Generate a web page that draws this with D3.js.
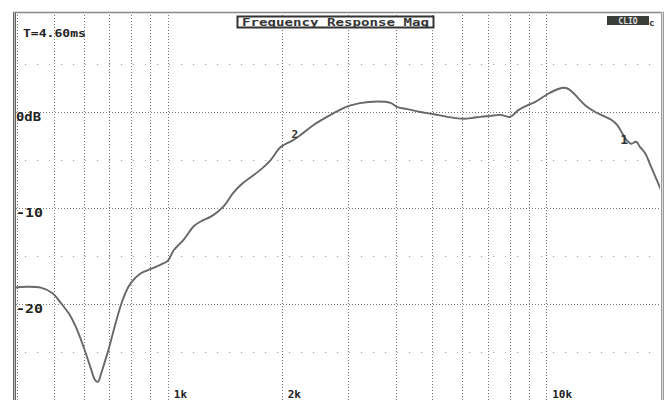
<!DOCTYPE html>
<html>
<head>
<meta charset="utf-8">
<script src="https://cdn.jsdelivr.net/npm/d3@7"></script>
<style>
  html, body { margin: 0; padding: 0; background: #fff; }
  svg { display: block; }
</style>
</head>
<body>
<svg id="chart" width="672" height="400"></svg>
<script>
const freqHz = [392, 422, 462, 497, 522, 548, 572, 597, 626, 642,
  654, 666, 682, 699, 720, 752, 775, 799, 849, 902,
  958, 1000, 1037, 1102, 1171, 1222, 1299, 1363, 1414, 1484,
  1558, 1656, 1760, 1870, 1987, 2150, 2244, 2428, 2692, 2949,
  3040, 3391, 3876, 4045, 4298, 4651, 5003, 5482, 6039, 6418,
  6697, 7116, 7560, 8035, 8437, 8911, 9354, 10120, 10960, 11290,
  11640, 12140, 12670, 13470, 14140, 14850, 15390, 15870, 16360, 16760,
  17280, 17700, 18250, 18920, 19750, 20360];
const magDb = [-18.3, -18.2, -18.3, -18.9, -19.9, -21.0, -22.4, -24.3, -26.7, -27.9,
  -28.1, -27.3, -26.0, -24.6, -22.7, -20.1, -18.75, -17.8, -16.8, -16.35,
  -15.9, -15.5, -14.4, -13.3, -11.9, -11.4, -10.9, -10.3, -9.7, -8.5,
  -7.6, -6.8, -6.0, -5.0, -3.65, -2.9, -2.4, -1.35, -0.3, 0.5,
  0.7, 1.05, 0.95, 0.5, 0.3, 0.0, -0.2, -0.5, -0.7, -0.6,
  -0.5, -0.4, -0.3, -0.5, 0.2, 0.7, 1.05, 1.9, 2.5, 2.5,
  2.2, 1.45, 0.7, 0.0, -0.4, -0.8, -1.35, -2.2, -3.0, -3.3,
  -3.1, -3.65, -4.3, -5.7, -7.4, -8.65];

const vGridFreqs = [400, 500, 600, 700, 800, 900, 1000, 2000, 3000, 4000, 5000, 6000, 7000, 8000, 9000, 10000];
const hMajorDb = [0, -10, -20];
const hMinorDb = [5, -5, -15, -25];

const xLabelFreqs = [1000, 2000, 10000];
const xLabelText = ["1k", "2k", "10k"];
const yLabelDb = [0, -10, -20];
const yLabelText = ["0dB", "-10", "-20"];

const markerFreqs = [2150, 15870];
const markerDb = [-2.9, -2.2];
const markerText = ["2", "1"];

const titleText = "Frequency Response Mag";
const delayText = "T=4.60ms";

(function () {
  // ---------- scales ----------
  const plotLeft = 13, plotRight = 661, plotTop = 12, plotBottom = 400;
  const x = d3.scaleLog().domain([390, 20100]).range([plotLeft, plotRight]);
  const y = d3.scaleLinear().domain([10.42, -30]).range([plotTop, plotBottom]);

  const svg = d3.select("#chart");
  const mono = "'DejaVu Sans Mono', 'Liberation Mono', monospace";

  svg.append("defs").append("clipPath").attr("id", "plot-clip")
    .append("rect").attr("x", plotLeft + 2).attr("y", plotTop + 1)
    .attr("width", plotRight - plotLeft - 3).attr("height", plotBottom - plotTop);

  const grid = svg.append("g").attr("clip-path", "url(#plot-clip)");

  // minor (sparse) horizontal lines
  grid.selectAll("line.hminor")
    .data(hMinorDb)
    .join("line")
    .attr("class", "hminor")
    .attr("x1", plotLeft).attr("x2", plotRight)
    .attr("y1", (d) => Math.round(y(d)) + 0.5).attr("y2", (d) => Math.round(y(d)) + 0.5)
    .attr("stroke", "#999").attr("stroke-width", 1)
    .attr("stroke-dasharray", "1,11");

  // vertical grid
  grid.selectAll("line.vgrid")
    .data(vGridFreqs)
    .join("line")
    .attr("class", "vgrid")
    .attr("x1", (d) => Math.round(x(d)) + 0.5).attr("x2", (d) => Math.round(x(d)) + 0.5)
    .attr("y1", plotTop).attr("y2", plotBottom)
    .attr("stroke", "#777").attr("stroke-width", 1)
    .attr("stroke-dasharray", "1,2");

  // major horizontal grid
  grid.selectAll("line.hmajor")
    .data(hMajorDb)
    .join("line")
    .attr("class", "hmajor")
    .attr("x1", plotLeft).attr("x2", plotRight)
    .attr("y1", (d) => Math.round(y(d)) + 0.5).attr("y2", (d) => Math.round(y(d)) + 0.5)
    .attr("stroke", "#777").attr("stroke-width", 1)
    .attr("stroke-dasharray", "1,2");

  // ---------- curve ----------
  const points = freqHz.map((f, i) => [f, magDb[i]]);
  const line = d3.line()
    .x((d) => x(d[0]))
    .y((d) => y(d[1]))
    .curve(d3.curveCatmullRom.alpha(0.5));

  grid.append("path")
    .datum(points)
    .attr("d", line)
    .attr("fill", "none")
    .attr("stroke", "#656965")
    .attr("stroke-width", 1.9)
    .attr("stroke-linejoin", "round");

  // curve markers
  svg.selectAll("text.marker")
    .data(markerFreqs)
    .join("text")
    .attr("class", "marker")
    .attr("x", (d) => x(d) - 2)
    .attr("y", (d, i) => y(markerDb[i]) + (i === 0 ? -2 : 11))
    .attr("font-family", mono).attr("font-weight", "bold")
    .attr("font-size", (d, i) => (i === 0 ? 11 : 13))
    .attr("fill", "#333")
    .text((d, i) => markerText[i]);

  // ---------- frame ----------
  svg.append("line").attr("x1", plotLeft).attr("x2", plotRight + 3).attr("y1", plotTop + 0.5).attr("y2", plotTop + 0.5)
    .attr("stroke", "#888").attr("stroke-width", 1.5);
  svg.append("line").attr("x1", plotLeft + 1.5).attr("x2", plotLeft + 1.5).attr("y1", plotTop).attr("y2", plotBottom)
    .attr("stroke", "#666").attr("stroke-width", 3);
  svg.append("line").attr("x1", plotLeft + 1.5).attr("x2", plotLeft + 1.5).attr("y1", plotTop).attr("y2", plotBottom)
    .attr("stroke", "#bbb").attr("stroke-width", 1);
  svg.append("line").attr("x1", plotRight + 1.5).attr("x2", plotRight + 1.5).attr("y1", plotTop).attr("y2", plotBottom)
    .attr("stroke", "#999").attr("stroke-width", 3);
  svg.append("line").attr("x1", plotRight + 1.5).attr("x2", plotRight + 1.5).attr("y1", plotTop).attr("y2", plotBottom)
    .attr("stroke", "#ddd").attr("stroke-width", 1);

  // ---------- labels ----------
  svg.selectAll("text.ylab")
    .data(yLabelDb)
    .join("text")
    .attr("class", "ylab")
    .attr("x", plotLeft + 3)
    .attr("y", (d) => y(d) + 9)
    .attr("font-family", mono).attr("font-weight", "bold").attr("font-size", 12)
    .attr("fill", "#222")
    .attr("textLength", (d, i) => (i === 0 ? 25 : 27))
    .attr("lengthAdjust", "spacingAndGlyphs")
    .text((d, i) => yLabelText[i]);

  svg.selectAll("text.xlab")
    .data(xLabelFreqs)
    .join("text")
    .attr("class", "xlab")
    .attr("x", (d) => x(d) + 6)
    .attr("y", 398)
    .attr("font-family", mono).attr("font-weight", "bold").attr("font-size", 11)
    .attr("fill", "#222")
    .text((d, i) => xLabelText[i]);

  svg.append("text")
    .attr("x", 23).attr("y", 37)
    .attr("font-family", mono).attr("font-weight", "bold").attr("font-size", 11)
    .attr("fill", "#222")
    .attr("textLength", 63).attr("lengthAdjust", "spacingAndGlyphs")
    .text(delayText);

  // title box
  svg.append("rect")
    .attr("x", 237.5).attr("y", 16.5).attr("width", 196).attr("height", 11)
    .attr("fill", "#fff").attr("stroke", "#333").attr("stroke-width", 2);
  svg.append("text")
    .attr("x", 242).attr("y", 26)
    .attr("font-family", mono).attr("font-weight", "bold").attr("font-size", 11)
    .attr("fill", "#333")
    .attr("textLength", 187).attr("lengthAdjust", "spacingAndGlyphs")
    .text(titleText);

  // logo box top right
  svg.append("rect")
    .attr("x", 607).attr("y", 16).attr("width", 42).attr("height", 9)
    .attr("fill", "#3a3f3a");
  svg.append("text")
    .attr("x", 628).attr("y", 24)
    .attr("text-anchor", "middle")
    .attr("font-family", mono).attr("font-weight", "bold").attr("font-size", 8)
    .attr("fill", "#ddd")
    .text("CLIO");
  svg.append("text")
    .attr("x", 649).attr("y", 26)
    .attr("font-family", mono).attr("font-weight", "bold").attr("font-size", 9)
    .attr("fill", "#333")
    .text("c");
})();
</script>
</body>
</html>
